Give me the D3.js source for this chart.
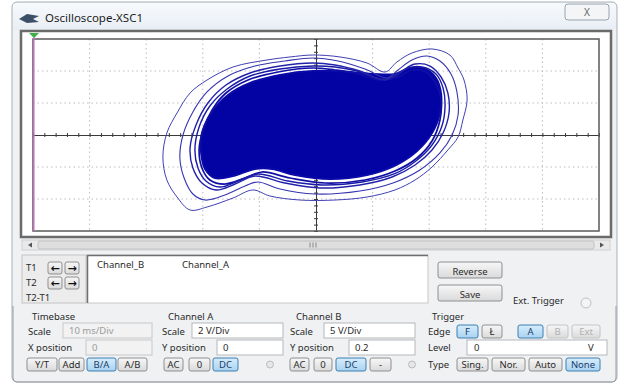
<!DOCTYPE html>
<html><head><meta charset="utf-8">
<script src="https://cdn.jsdelivr.net/npm/d3@7"></script>
<style>
html,body{margin:0;padding:0;background:#fff;}
svg{display:block;font-family:"Noto Sans","Open Sans",sans-serif;}
</style></head><body>
<svg id="scope" width="622" height="383"></svg>
<script>
// Screen ranges: Channel A on the horizontal (2 V/Div), Channel B on the vertical (5 V/Div)
const xTicks = [-10, -8, -6, -4, -2, 0, 2, 4, 6, 8, 10];
const yTicks = [-15, -10, -5, 0, 5, 10, 15];

// B/A trace loops, each point is [Channel A volts, Channel B volts]
const traceOuter = [[-0.11,12.5],[-0.92,12.19],[-1.73,11.72],[-2.93,10.63],[-3.85,8.59],[-4.45,6.56],[-4.91,3.44],[-5.27,0.31],[-5.41,-3.44],[-5.27,-7.03],[-4.91,-9.69],[-4.45,-11.72],[-3.85,-11.25],[-2.93,-9.84],[-2.23,-8.59],[-1.63,-9.53],[-0.57,-10.16],[0.67,-10.16],[1.8,-9.69],[2.79,-8.59],[3.5,-7.03],[4.1,-5.0],[4.66,-2.34],[5.02,-0.31],[5.19,2.34],[5.34,5.47],[5.23,8.59],[5.02,10.47],[4.73,12.5],[4.1,13.44],[3.39,12.81],[2.86,11.41],[2.44,9.84],[1.8,11.25],[0.85,12.19]];
const traceLoop2 = [[-0.11,12.03],[-1.1,11.56],[-2.16,10.78],[-3.11,9.22],[-3.85,6.72],[-4.35,3.59],[-4.7,0],[-4.81,-3.59],[-4.66,-6.72],[-4.35,-9.22],[-3.92,-10.16],[-3.22,-9.38],[-2.51,-7.97],[-2.05,-7.34],[-1.27,-8.44],[-0.04,-9.22],[1.55,-8.75],[2.72,-7.5],[3.67,-5.47],[4.38,-2.81],[4.81,0],[5.02,3.13],[4.98,6.72],[4.77,9.53],[4.38,11.56],[3.92,12.34],[3.39,11.72],[2.9,10.16],[2.51,8.91],[1.73,10.31],[0.78,11.56]];
const traceLoop3 = [[-0.11,11.25],[-1.27,10.78],[-2.33,9.69],[-3.18,7.81],[-3.82,5.0],[-4.24,1.56],[-4.45,-2.03],[-4.35,-5.16],[-4.03,-7.5],[-3.53,-8.59],[-2.86,-7.66],[-2.16,-6.41],[-1.1,-7.5],[0.14,-8.28],[1.55,-7.81],[2.69,-6.56],[3.5,-4.69],[4.1,-2.34],[4.49,0.31],[4.7,3.44],[4.66,6.56],[4.42,9.06],[4.03,10.78],[3.5,11.09],[2.97,9.84],[2.44,8.59],[1.55,10.0],[0.67,10.94]];
const traceLoop3b = [[-0.11,10.78],[-1.27,10.31],[-2.33,9.22],[-3.14,7.19],[-3.75,4.53],[-4.13,1.25],[-4.28,-2.34],[-4.17,-5.16],[-3.89,-7.19],[-3.39,-8.13],[-2.76,-7.19],[-2.05,-6.09],[-0.99,-7.19],[0.21,-7.81],[1.63,-7.34],[2.76,-6.09],[3.53,-4.06],[4.1,-1.56],[4.45,1.41],[4.56,4.53],[4.49,7.34],[4.24,9.53],[3.75,10.63],[3.25,10.47],[2.83,9.22],[2.26,8.75],[1.45,10.0],[0.67,10.63]];
const traceLoop4 = [[-0.11,10.47],[-1.34,9.84],[-2.4,8.59],[-3.18,6.56],[-3.67,3.91],[-3.99,0.78],[-4.13,-2.34],[-4.03,-5.16],[-3.75,-7.03],[-3.22,-7.66],[-2.51,-6.72],[-1.91,-5.78],[-0.92,-6.72],[0.32,-7.5],[1.73,-7.03],[2.79,-5.63],[3.57,-3.59],[4.1,-0.94],[4.38,2.34],[4.42,5.47],[4.24,7.97],[3.89,9.84],[3.39,10.16],[2.9,9.06],[2.26,8.59],[1.38,9.69],[0.67,10.16]];
const traceCore = [[-0.11,10.0],[-1.27,9.38],[-2.33,8.13],[-3.11,6.25],[-3.67,3.59],[-4.03,0.31],[-4.06,-2.81],[-3.92,-5.31],[-3.57,-6.72],[-2.93,-6.41],[-2.16,-5.31],[-1.55,-5.31],[-0.74,-6.25],[0.49,-6.88],[1.8,-6.25],[2.83,-4.69],[3.57,-2.5],[4.1,0.31],[4.38,3.44],[4.42,6.41],[4.24,8.91],[3.85,10.31],[3.32,10.47],[2.79,9.53],[2.05,9.53],[1.2,9.84]];

const svg = d3.select("#scope");
const FONT = 9.5;
const defs = svg.append("defs");

// ---------- window frame ----------
svg.append("rect").attr("x", 12).attr("y", 2).attr("width", 605).attr("height", 380)
  .attr("rx", 5).attr("fill", "#eff1f3").attr("stroke", "#a8b0b8");
const tg = defs.append("linearGradient").attr("id", "titleGrad")
  .attr("x1", 0).attr("y1", 0).attr("x2", 0).attr("y2", 1);
tg.append("stop").attr("offset", "0%").attr("stop-color", "#f7fafd");
tg.append("stop").attr("offset", "100%").attr("stop-color", "#e8eef5");
svg.append("rect").attr("x", 13).attr("y", 3).attr("width", 603).attr("height", 27)
  .attr("rx", 4).attr("fill", "url(#titleGrad)");
// title icon
svg.append("path").attr("d", "M19,19 L27,14 L39,16 L33,19 L39,22 L27,23 Z").attr("fill", "#3d4f68");
svg.append("text").attr("x", 45).attr("y", 22).attr("font-size", 11.5).attr("fill", "#1c1c1c")
  .text("Oscilloscope-XSC1");
// close box
svg.append("rect").attr("x", 565).attr("y", 4).attr("width", 44).attr("height", 16).attr("rx", 3)
  .attr("fill", "#f3f5f7").attr("stroke", "#9aa3ad");
svg.append("text").attr("x", 587).attr("y", 16).attr("text-anchor", "middle")
  .attr("font-size", 10).attr("fill", "#666").text("X");

// ---------- screen ----------
svg.append("rect").attr("x", 21).attr("y", 31).attr("width", 590).attr("height", 206)
  .attr("fill", "#ffffff").attr("stroke", "#6a6a6a").attr("stroke-width", 2.5);

const x = d3.scaleLinear().domain([-10, 10]).range([33, 599]);
const y = d3.scaleLinear().domain([-15, 15]).range([231, 39]);

const plot = svg.append("g");
plot.append("clipPath").attr("id", "screenClip").append("rect")
  .attr("x", x(-10)).attr("y", y(15)).attr("width", x(10) - x(-10)).attr("height", y(-15) - y(15));

// dotted division grid
plot.append("g").selectAll("line").data(xTicks.filter(d => d !== 0 && Math.abs(d) !== 10)).join("line")
  .attr("x1", d => x(d)).attr("x2", d => x(d)).attr("y1", y(15)).attr("y2", y(-15))
  .attr("stroke", "#bdbdbd").attr("stroke-dasharray", "1.5,3");
plot.append("g").selectAll("line").data(yTicks.filter(d => d !== 0 && Math.abs(d) !== 15)).join("line")
  .attr("y1", d => y(d)).attr("y2", d => y(d)).attr("x1", x(-10)).attr("x2", x(10))
  .attr("stroke", "#bdbdbd").attr("stroke-dasharray", "1.5,3");

// center axes with sub-division ticks
const xMinor = d3.range(-10, 10.001, 0.4);
const yMinor = d3.range(-15, 15.001, 1);
function centerAxis(axisFn, scale, vals, transform) {
  const g = plot.append("g").attr("transform", transform)
    .call(axisFn(scale).tickValues(vals).tickSize(2).tickSizeOuter(0).tickFormat(""));
  g.select(".domain").attr("stroke", "#3a3a3a");
  g.selectAll(".tick line").attr("stroke", "#3a3a3a");
  return g;
}
centerAxis(d3.axisBottom, x, xMinor, `translate(0,${y(0)})`);
centerAxis(d3.axisTop, x, xMinor, `translate(0,${y(0)})`);
centerAxis(d3.axisLeft, y, yMinor, `translate(${x(0)},0)`);
centerAxis(d3.axisRight, y, yMinor, `translate(${x(0)},0)`);

// plot border
plot.append("rect").attr("x", x(-10)).attr("y", y(15)).attr("width", x(10) - x(-10))
  .attr("height", y(-15) - y(15)).attr("fill", "none").attr("stroke", "#5a5a5a").attr("stroke-width", 1.5);

// B/A trace
const line = d3.line().x(d => x(d[0])).y(d => y(d[1])).curve(d3.curveCatmullRomClosed.alpha(0.5));
const traces = plot.append("g").attr("clip-path", "url(#screenClip)");
traces.append("path").datum(traceCore).attr("d", line)
  .attr("fill", "#0303a4").attr("stroke", "#0a0aa8").attr("stroke-width", 2);
[[traceLoop4, "#0f0fa6", 1.7], [traceLoop3b, "#1a1aa8", 1.4], [traceLoop3, "#2222aa", 1.4],
 [traceLoop2, "#3535b0", 1.1], [traceOuter, "#4040b4", 1.0]].forEach(([loop, c, w]) => {
  traces.append("path").datum(loop).attr("d", line).attr("fill", "none")
    .attr("stroke", c).attr("stroke-width", w);
});

// T1 cursor
plot.append("line").attr("x1", x(-10) + 1).attr("x2", x(-10) + 1).attr("y1", 36).attr("y2", y(-15))
  .attr("stroke", "#e070e0").attr("stroke-width", 1.2);
plot.append("path").attr("d", `M${x(-10) - 4},33 L${x(-10) + 6},33 L${x(-10) + 1},38 Z`).attr("fill", "#3cb043");

// ---------- scrollbar ----------
svg.append("rect").attr("x", 22).attr("y", 240).attr("width", 588).attr("height", 10)
  .attr("fill", "#e9e9e9").attr("stroke", "#d0d0d0");
svg.append("rect").attr("x", 38).attr("y", 241).attr("width", 556).attr("height", 8).attr("rx", 2)
  .attr("fill", "#dedede").attr("stroke", "#c2c2c2");
svg.append("path").attr("d", "M28,245 L32,242.5 L32,247.5 Z").attr("fill", "#555");
svg.append("path").attr("d", "M604,245 L600,242.5 L600,247.5 Z").attr("fill", "#555");
[-3, 0, 3].forEach(o => svg.append("line").attr("x1", 313 + o).attr("x2", 313 + o)
  .attr("y1", 242.5).attr("y2", 247.5).attr("stroke", "#8a8a8a"));

// ---------- helpers ----------
function label(px, py, t, opt = {}) {
  return svg.append("text").attr("x", px).attr("y", py).attr("font-size", opt.size || FONT)
    .attr("fill", opt.color || "#2a2a2a").attr("text-anchor", opt.anchor || "start").text(t);
}
function field(px, py, w, h, t, opt = {}) {
  svg.append("rect").attr("x", px).attr("y", py).attr("width", w).attr("height", h)
    .attr("fill", opt.disabled ? "#f2f2f2" : "#ffffff").attr("stroke", opt.disabled ? "#c8c8c8" : "#b5b8bd");
  label(px + 6, py + h - 4, t, { color: opt.disabled ? "#9a9a9a" : "#2a2a2a" });
}
const bg = defs.append("linearGradient").attr("id", "btnGrad")
  .attr("x1", 0).attr("y1", 0).attr("x2", 0).attr("y2", 1);
bg.append("stop").attr("offset", "0%").attr("stop-color", "#f7f7f7");
bg.append("stop").attr("offset", "100%").attr("stop-color", "#dadada");
const bo = defs.append("linearGradient").attr("id", "btnOn")
  .attr("x1", 0).attr("y1", 0).attr("x2", 0).attr("y2", 1);
bo.append("stop").attr("offset", "0%").attr("stop-color", "#d6ecfb");
bo.append("stop").attr("offset", "100%").attr("stop-color", "#a9d3f2");
function button(px, py, w, h, t, state = "normal") {
  svg.append("rect").attr("x", px).attr("y", py).attr("width", w).attr("height", h).attr("rx", 2)
    .attr("fill", state === "on" ? "url(#btnOn)" : "url(#btnGrad)")
    .attr("stroke", state === "on" ? "#3c7fb1" : state === "off" ? "#c4c4c4" : "#8e8f8f");
  return label(px + w / 2, py + h - 3.5, t, { anchor: "middle",
    color: state === "off" ? "#b0b0b0" : state === "on" ? "#1a3d6a" : "#2a2a2a" });
}

// ---------- cursor readout ----------
svg.append("rect").attr("x", 22).attr("y", 255).attr("width", 64).attr("height", 48)
  .attr("fill", "#ececec").attr("stroke", "#c4c4c4");
label(26, 271, "T1"); label(26, 286, "T2"); label(26, 301, "T2-T1");
[[48, 262], [65, 262], [48, 277], [65, 277]].forEach(([bx, by], i) => {
  svg.append("rect").attr("x", bx).attr("y", by).attr("width", 14).attr("height", 12).attr("rx", 2)
    .attr("fill", "url(#btnGrad)").attr("stroke", "#8e8f8f");
  label(bx + 7, by + 10, i % 2 === 0 ? "←" : "→", { anchor: "middle", size: 11, color: "#111" })
    .attr("font-weight", "bold").attr("font-family", "DejaVu Sans");
});
svg.append("rect").attr("x", 87).attr("y", 255).attr("width", 341).attr("height", 48)
  .attr("fill", "#ffffff").attr("stroke", "#c8c8c8");
svg.append("path").attr("d", "M87.5,303 L87.5,255.5 L428,255.5").attr("fill", "none")
  .attr("stroke", "#6f6f6f").attr("stroke-width", 1.5);
label(97, 268, "Channel_B"); label(182, 268, "Channel_A");
button(438, 262, 64, 16, "Reverse");
button(438, 285, 64, 16, "Save");
label(513, 304, "Ext. Trigger");
svg.append("circle").attr("cx", 586).attr("cy", 303).attr("r", 5).attr("fill", "#f4f4f4").attr("stroke", "#c0c0c0");

// ---------- settings panel ----------
svg.append("path").attr("d", "M13,306 L13,378 Q13,382 17,382 L612,382 Q616,382 616,378 L616,306")
  .attr("fill", "none").attr("stroke", "#9a9ea3");

// Timebase
label(32, 320, "Timebase");
label(28, 335, "Scale"); field(63, 323, 89, 15, "10 ms/Div", { disabled: true });
label(28, 351, "X position"); field(86, 340, 66, 15, "0", { disabled: true });
button(27, 358, 30, 13, "Y/T"); button(59, 358, 25, 13, "Add");
button(87, 358, 29, 13, "B/A", "on"); button(118, 358, 29, 13, "A/B");

// Channel A
label(168, 320, "Channel A");
label(162, 335, "Scale"); field(192, 323, 91, 15, "2  V/Div");
label(162, 351, "Y position"); field(217, 340, 66, 15, "0");
button(164, 358, 19, 13, "AC"); button(189, 358, 21, 13, "0"); button(213, 358, 25, 13, "DC", "on");
svg.append("circle").attr("cx", 270).attr("cy", 364.5).attr("r", 3.5).attr("fill", "#e6e6e6").attr("stroke", "#bdbdbd");

// Channel B
label(296, 320, "Channel B");
label(290, 335, "Scale"); field(324, 323, 91, 15, "5  V/Div");
label(290, 351, "Y position"); field(349, 340, 66, 15, "0.2");
button(290, 358, 19, 13, "AC"); button(314, 358, 18, 13, "0"); button(336, 358, 30, 13, "DC", "on");
button(370, 358, 21, 13, "-");
svg.append("circle").attr("cx", 412).attr("cy", 364.5).attr("r", 3.5).attr("fill", "#e6e6e6").attr("stroke", "#bdbdbd");

// Trigger
label(432, 320, "Trigger");
label(428, 335, "Edge");
button(457, 325, 21, 13, "F", "on"); button(482, 325, 20, 13, "Ł");
button(518, 325, 25, 13, "A", "on"); button(547, 325, 21, 13, "B", "off"); button(572, 325, 28, 13, "Ext", "off");
label(428, 351, "Level");
svg.append("rect").attr("x", 467).attr("y", 340).attr("width", 140).attr("height", 15)
  .attr("fill", "#ffffff").attr("stroke", "#b5b8bd");
label(474, 351, "0"); label(588, 351, "V");
label(428, 368, "Type");
button(457, 358, 31, 13, "Sing."); button(492, 358, 33, 13, "Nor.");
button(529, 358, 33, 13, "Auto"); button(566, 358, 34, 13, "None", "on");
</script></body></html>
